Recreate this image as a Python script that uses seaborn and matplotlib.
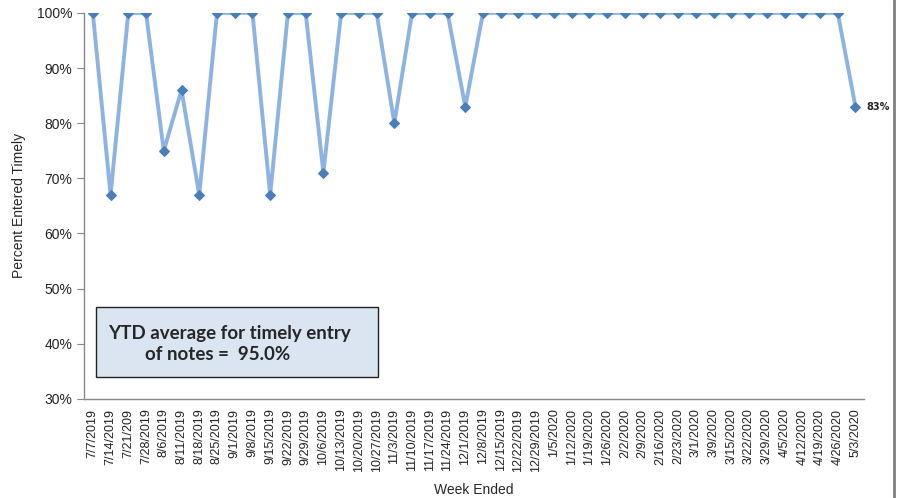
import matplotlib
matplotlib.use("Agg")
import matplotlib.pyplot as plt
import matplotlib.lines as mlines
import matplotlib.patches as mpatches
import pandas as pd
import seaborn as sns

# week labels as printed on the chart (typo "7/21/209" kept)
weeks = ["7/7/2019", "7/14/2019", "7/21/209", "7/28/2019", "8/6/2019", "8/11/2019",
         "8/18/2019", "8/25/2019", "9/1/2019", "9/8/2019", "9/15/2019", "9/22/2019",
         "9/29/2019", "10/6/2019", "10/13/2019", "10/20/2019", "10/27/2019", "11/3/2019",
         "11/10/2019", "11/17/2019", "11/24/2019", "12/1/2019", "12/8/2019", "12/15/2019",
         "12/22/2019", "12/29/2019", "1/5/2020", "1/12/2020", "1/19/2020", "1/26/2020",
         "2/2/2020", "2/9/2020", "2/16/2020", "2/23/2020", "3/1/2020", "3/9/2020",
         "3/15/2020", "3/22/2020", "3/29/2020", "4/5/2020", "4/12/2020", "4/19/2020",
         "4/26/2020", "5/3/2020"]
pct_timely = [100, 67, 100, 100, 75, 86, 67, 100, 100, 100, 67, 100, 100, 71,
              100, 100, 100, 80, 100, 100, 100, 83, 100, 100, 100, 100, 100, 100,
              100, 100, 100, 100, 100, 100, 100, 100, 100, 100, 100, 100, 100, 100,
              100, 83]
y_ticks = [30, 40, 50, 60, 70, 80, 90, 100]
ytd_line1 = "YTD average for timely entry"
ytd_line2 = "of notes =  95.0%"

df = pd.DataFrame({"week": weeks, "pct": pct_timely})
df["pos"] = range(len(df))

sns.set_style("white")
plt.rcParams["font.family"] = ["Liberation Sans", "DejaVu Sans"]

fig = plt.figure(figsize=(8.98, 4.98), dpi=100)
ax = fig.add_axes([0.0935, 0.199, 0.869, 0.775])

sns.lineplot(data=df, x="pos", y="pct", ax=ax, color="#8db3e2", linewidth=2.8,
             marker="D", markersize=5.5, markerfacecolor="#4a7ebb",
             markeredgecolor="#4a7ebb")

ax.set_xlim(-0.5, len(df) - 0.5)
ax.set_ylim(30, 100)
ax.set_yticks(y_ticks)
ax.set_yticklabels([f"{v}%" for v in y_ticks], fontsize=10, color="#222222")

# category labels centred, tick marks between categories
ax.set_xticks(df["pos"])
ax.set_xticklabels(weeks, rotation=90, fontsize=9, color="#222222")
ax.set_xticks([p - 0.5 for p in range(len(df) + 1)], minor=True)
ax.tick_params(axis="x", which="major", length=0, pad=7)
ax.tick_params(axis="x", which="minor", length=5, color="#888888", direction="out")
ax.tick_params(axis="y", length=5, color="#888888", direction="out", left=True)

for side in ["top", "right"]:
    ax.spines[side].set_visible(False)
for side in ["left", "bottom"]:
    ax.spines[side].set_color("#888888")
    ax.spines[side].set_linewidth(1)

ax.set_xlabel("Week Ended", fontsize=10, labelpad=8)
ax.set_ylabel("Percent Entered Timely", fontsize=10, labelpad=8)

# last-point label
ax.annotate(f"{pct_timely[-1]}%", (df["pos"].iloc[-1], pct_timely[-1]),
            xytext=(8, 0), textcoords="offset points", va="center",
            fontsize=7, fontweight="bold", family=["DejaVu Sans"])

# YTD average box
fig.add_artist(mpatches.Rectangle((0.107, 0.243), 0.314, 0.1406,
                                  transform=fig.transFigure, facecolor="#dbe5f1",
                                  edgecolor="#222222", linewidth=1))
fig.text(0.12, 1 - 333 / 498, ytd_line1, fontsize=13.5, fontweight="bold",
         family=["Lato", "DejaVu Sans"], va="center", ha="left")
fig.text(0.162, 1 - 355 / 498, ytd_line2, fontsize=13.5, fontweight="bold",
         family=["Lato", "DejaVu Sans"], va="center", ha="left")

# frame line on the right edge
fig.add_artist(mlines.Line2D([0.9955, 0.9955], [0, 1], color="#808080",
                             linewidth=2, transform=fig.transFigure))

fig.savefig("out.png", dpi=100)
